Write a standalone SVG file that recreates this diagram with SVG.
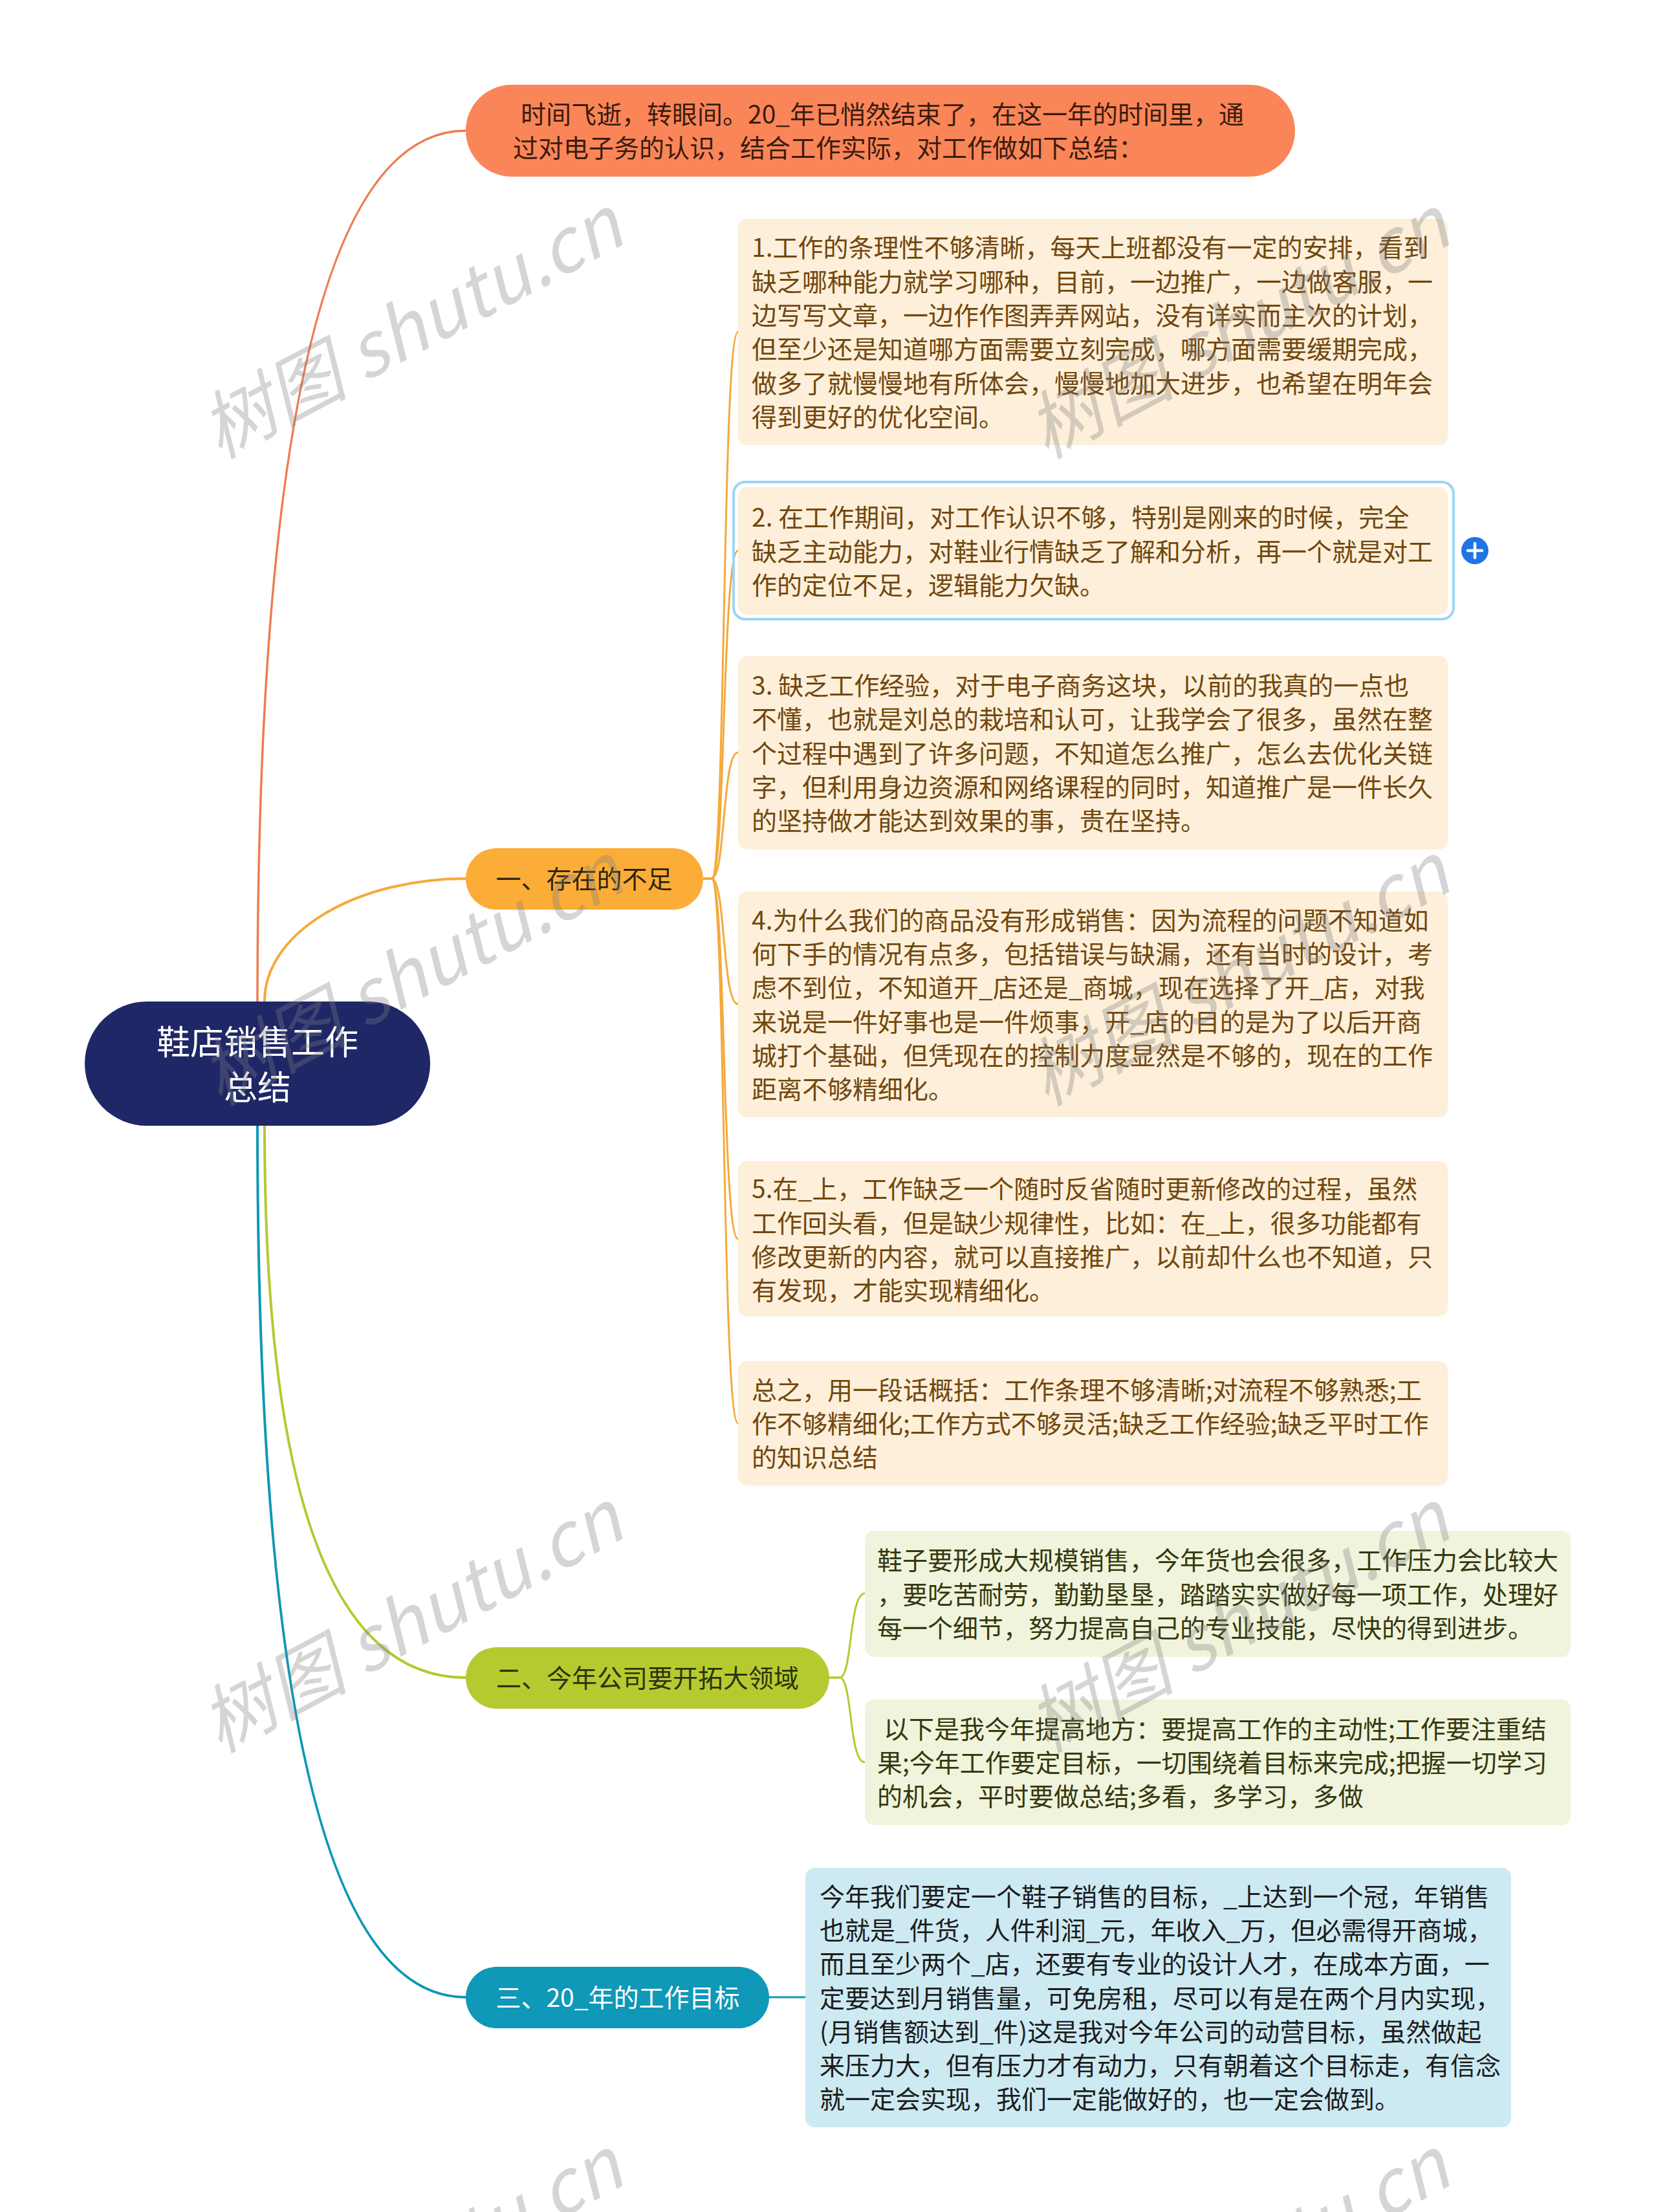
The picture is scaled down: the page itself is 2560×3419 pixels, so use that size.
<svg xmlns="http://www.w3.org/2000/svg" width="2560" height="3419" viewBox="0 0 2560 3419">
<style>
text{font-family:'Noto Sans CJK SC','Noto Sans',sans-serif;}
.t{font-size:39px;}
.c1{fill:#fdefd9;}
.tb{fill:#71470f;}
.c2{fill:#f0f4dc;}
.tg{fill:#35380f;}
.c3{fill:#cdeaf3;}
.tk{fill:#1c1c1c;}
.wm{font-family:'Liberation Serif','Noto Sans CJK SC',serif;font-style:italic;font-size:114px;fill:#808080;fill-opacity:0.33;}
.ln{fill:none;stroke-linecap:round;}
</style>
<rect x="0" y="0" width="2560" height="3419" fill="#ffffff"/>
<g id="connectors">
<path class="ln" d="M398,1548 Q398,202 720,202" stroke="#ec7c50" stroke-width="3.5"/>
<path class="ln" d="M409,1547 A311,189 0 0 1 720,1358" stroke="#f5a93a" stroke-width="4"/>
<path class="ln" d="M409,1740 Q409,2593 720,2593" stroke="#b5c92e" stroke-width="4"/>
<path class="ln" d="M398,1740 Q398,3087 720,3087" stroke="#0e97b6" stroke-width="4"/>
<g stroke="#f5a93a" stroke-width="3" class="ln">
<path d="M1087,1358 H1100 C1122,1358 1116,513 1141,513"/>
<path d="M1087,1358 H1100 C1122,1358 1116,851 1141,851"/>
<path d="M1087,1358 H1100 C1122,1358 1116,1163 1141,1163"/>
<path d="M1087,1358 H1100 C1122,1358 1116,1552 1141,1552"/>
<path d="M1087,1358 H1100 C1122,1358 1116,1915 1141,1915"/>
<path d="M1087,1358 H1100 C1122,1358 1116,2200 1141,2200"/>
</g>
<g stroke="#b5c92e" stroke-width="3" class="ln">
<path d="M1282,2593 H1298 C1318,2593 1312,2463 1337,2463"/>
<path d="M1282,2593 H1298 C1318,2593 1312,2724 1337,2724"/>
</g>
<path class="ln" d="M1189,3087 H1245" stroke="#0e97b6" stroke-width="3"/>
</g>
<g id="root">
<rect x="131" y="1548" width="534" height="192" rx="96" ry="96" fill="#1f2767"/>
<text x="398" y="1630" text-anchor="middle" font-size="52" fill="#ffffff">鞋店销售工作</text>
<text x="398" y="1700" text-anchor="middle" font-size="52" fill="#ffffff">总结</text>
</g>
<g id="intro">
<rect x="720" y="131" width="1282" height="142" rx="71" ry="71" fill="#fa8559"/>
<text class="t" x="805" y="191" fill="#3a1c0e">时间飞逝，转眼间。20_年已悄然结束了，在这一年的时间里，通</text>
<text class="t" x="793" y="243" fill="#3a1c0e">过对电子务的认识，结合工作实际，对工作做如下总结：</text>
</g>
<g id="branch1">
<rect x="720" y="1311" width="367" height="95" rx="47.5" fill="#fbad37"/>
<text class="t" x="903" y="1373" text-anchor="middle" fill="#2e2412">一、存在的不足</text>
</g>
<g id="b1n1">
<rect class="c1" x="1141" y="338" width="1097" height="350" rx="14"/>
<g class="t tb">
<text x="1162" y="397">1.工作的条理性不够清晰，每天上班都没有一定的安排，看到</text>
<text x="1162" y="449.5">缺乏哪种能力就学习哪种，目前，一边推广，一边做客服，一</text>
<text x="1162" y="502">边写写文章，一边作作图弄弄网站，没有详实而主次的计划，</text>
<text x="1162" y="554">但至少还是知道哪方面需要立刻完成，哪方面需要缓期完成，</text>
<text x="1162" y="606.5">做多了就慢慢地有所体会，慢慢地加大进步，也希望在明年会</text>
<text x="1162" y="659">得到更好的优化空间。</text>
</g>
</g>
<g id="b1n2">
<rect x="1134" y="745" width="1113" height="212" rx="18" fill="none" stroke="#9dd5f3" stroke-width="4"/>
<rect class="c1" x="1141" y="753" width="1097" height="197" rx="14"/>
<g class="t tb">
<text x="1162" y="814">2. 在工作期间，对工作认识不够，特别是刚来的时候，完全</text>
<text x="1162" y="866.5">缺乏主动能力，对鞋业行情缺乏了解和分析，再一个就是对工</text>
<text x="1162" y="919">作的定位不足，逻辑能力欠缺。</text>
</g>
<circle cx="2280" cy="851" r="21" fill="#1f74e6"/>
<path d="M2269,851 H2291 M2280,840 V862" stroke="#ffffff" stroke-width="4.5" stroke-linecap="round"/>
</g>
<g id="b1n3">
<rect class="c1" x="1141" y="1014" width="1097" height="299" rx="14"/>
<g class="t tb">
<text x="1162" y="1074">3. 缺乏工作经验，对于电子商务这块，以前的我真的一点也</text>
<text x="1162" y="1126">不懂，也就是刘总的栽培和认可，让我学会了很多，虽然在整</text>
<text x="1162" y="1178.5">个过程中遇到了许多问题，不知道怎么推广，怎么去优化关链</text>
<text x="1162" y="1231">字，但利用身边资源和网络课程的同时，知道推广是一件长久</text>
<text x="1162" y="1283">的坚持做才能达到效果的事，贵在坚持。</text>
</g>
</g>
<g id="b1n4">
<rect class="c1" x="1141" y="1378" width="1097" height="349" rx="14"/>
<g class="t tb">
<text x="1162" y="1437">4.为什么我们的商品没有形成销售：因为流程的问题不知道如</text>
<text x="1162" y="1489">何下手的情况有点多，包括错误与缺漏，还有当时的设计，考</text>
<text x="1162" y="1541">虑不到位，不知道开_店还是_商城，现在选择了开_店，对我</text>
<text x="1162" y="1594">来说是一件好事也是一件烦事，开_店的目的是为了以后开商</text>
<text x="1162" y="1646">城打个基础，但凭现在的控制力度显然是不够的，现在的工作</text>
<text x="1162" y="1698">距离不够精细化。</text>
</g>
</g>
<g id="b1n5">
<rect class="c1" x="1141" y="1795" width="1097" height="240" rx="14"/>
<g class="t tb">
<text x="1162" y="1852">5.在_上，工作缺乏一个随时反省随时更新修改的过程，虽然</text>
<text x="1162" y="1904.5">工作回头看，但是缺少规律性，比如：在_上，很多功能都有</text>
<text x="1162" y="1957">修改更新的内容，就可以直接推广，以前却什么也不知道，只</text>
<text x="1162" y="2009">有发现，才能实现精细化。</text>
</g>
</g>
<g id="b1n6">
<rect class="c1" x="1141" y="2104" width="1097" height="192" rx="14"/>
<g class="t tb">
<text x="1162" y="2163">总之，用一段话概括：工作条理不够清晰;对流程不够熟悉;工</text>
<text x="1162" y="2215">作不够精细化;工作方式不够灵活;缺乏工作经验;缺乏平时工作</text>
<text x="1162" y="2267">的知识总结</text>
</g>
</g>
<g id="branch2">
<rect x="720" y="2546" width="562" height="95" rx="47.5" fill="#b6ca2f"/>
<text class="t" x="1001" y="2608" text-anchor="middle" fill="#2c320e">二、今年公司要开拓大领域</text>
</g>
<g id="b2n1">
<rect class="c2" x="1337" y="2366" width="1091" height="195" rx="14"/>
<g class="t tg">
<text x="1356" y="2426">鞋子要形成大规模销售，今年货也会很多，工作压力会比较大</text>
<text x="1356" y="2478.5">，要吃苦耐劳，勤勤垦垦，踏踏实实做好每一项工作，处理好</text>
<text x="1356" y="2531">每一个细节，努力提高自己的专业技能，尽快的得到进步。</text>
</g>
</g>
<g id="b2n2">
<rect class="c2" x="1337" y="2627" width="1091" height="194" rx="14"/>
<g class="t tg">
<text x="1366" y="2687">以下是我今年提高地方：要提高工作的主动性;工作要注重结</text>
<text x="1356" y="2739">果;今年工作要定目标，一切围绕着目标来完成;把握一切学习</text>
<text x="1356" y="2791">的机会，平时要做总结;多看，多学习，多做</text>
</g>
</g>
<g id="branch3">
<rect x="720" y="3040" width="469" height="95" rx="47.5" fill="#0f98b8"/>
<text class="t" x="955" y="3102" text-anchor="middle" fill="#ffffff">三、20_年的工作目标</text>
</g>
<g id="b3n1">
<rect class="c3" x="1245" y="2887" width="1091" height="401" rx="14"/>
<g class="t tk">
<text x="1267" y="2946">今年我们要定一个鞋子销售的目标，_上达到一个冠，年销售</text>
<text x="1267" y="2998">也就是_件货，人件利润_元，年收入_万，但必需得开商城，</text>
<text x="1267" y="3050">而且至少两个_店，还要有专业的设计人才，在成本方面，一</text>
<text x="1267" y="3102.5">定要达到月销售量，可免房租，尽可以有是在两个月内实现，</text>
<text x="1267" y="3155">(月销售额达到_件)这是我对今年公司的动营目标，虽然做起</text>
<text x="1267" y="3207">来压力大，但有压力才有动力，只有朝着这个目标走，有信念</text>
<text x="1267" y="3259">就一定会实现，我们一定能做好的，也一定会做到。</text>
</g>
</g>
<g id="watermarks" class="wm" text-anchor="middle">
<text transform="translate(655,542) rotate(-28)">树图 shutu.cn</text>
<text transform="translate(1933,542) rotate(-28)">树图 shutu.cn</text>
<text transform="translate(655,1542) rotate(-28)">树图 shutu.cn</text>
<text transform="translate(1933,1542) rotate(-28)">树图 shutu.cn</text>
<text transform="translate(655,2542) rotate(-28)">树图 shutu.cn</text>
<text transform="translate(1933,2542) rotate(-28)">树图 shutu.cn</text>
<text transform="translate(655,3542) rotate(-28)">树图 shutu.cn</text>
<text transform="translate(1933,3542) rotate(-28)">树图 shutu.cn</text>
</g>
</svg>
